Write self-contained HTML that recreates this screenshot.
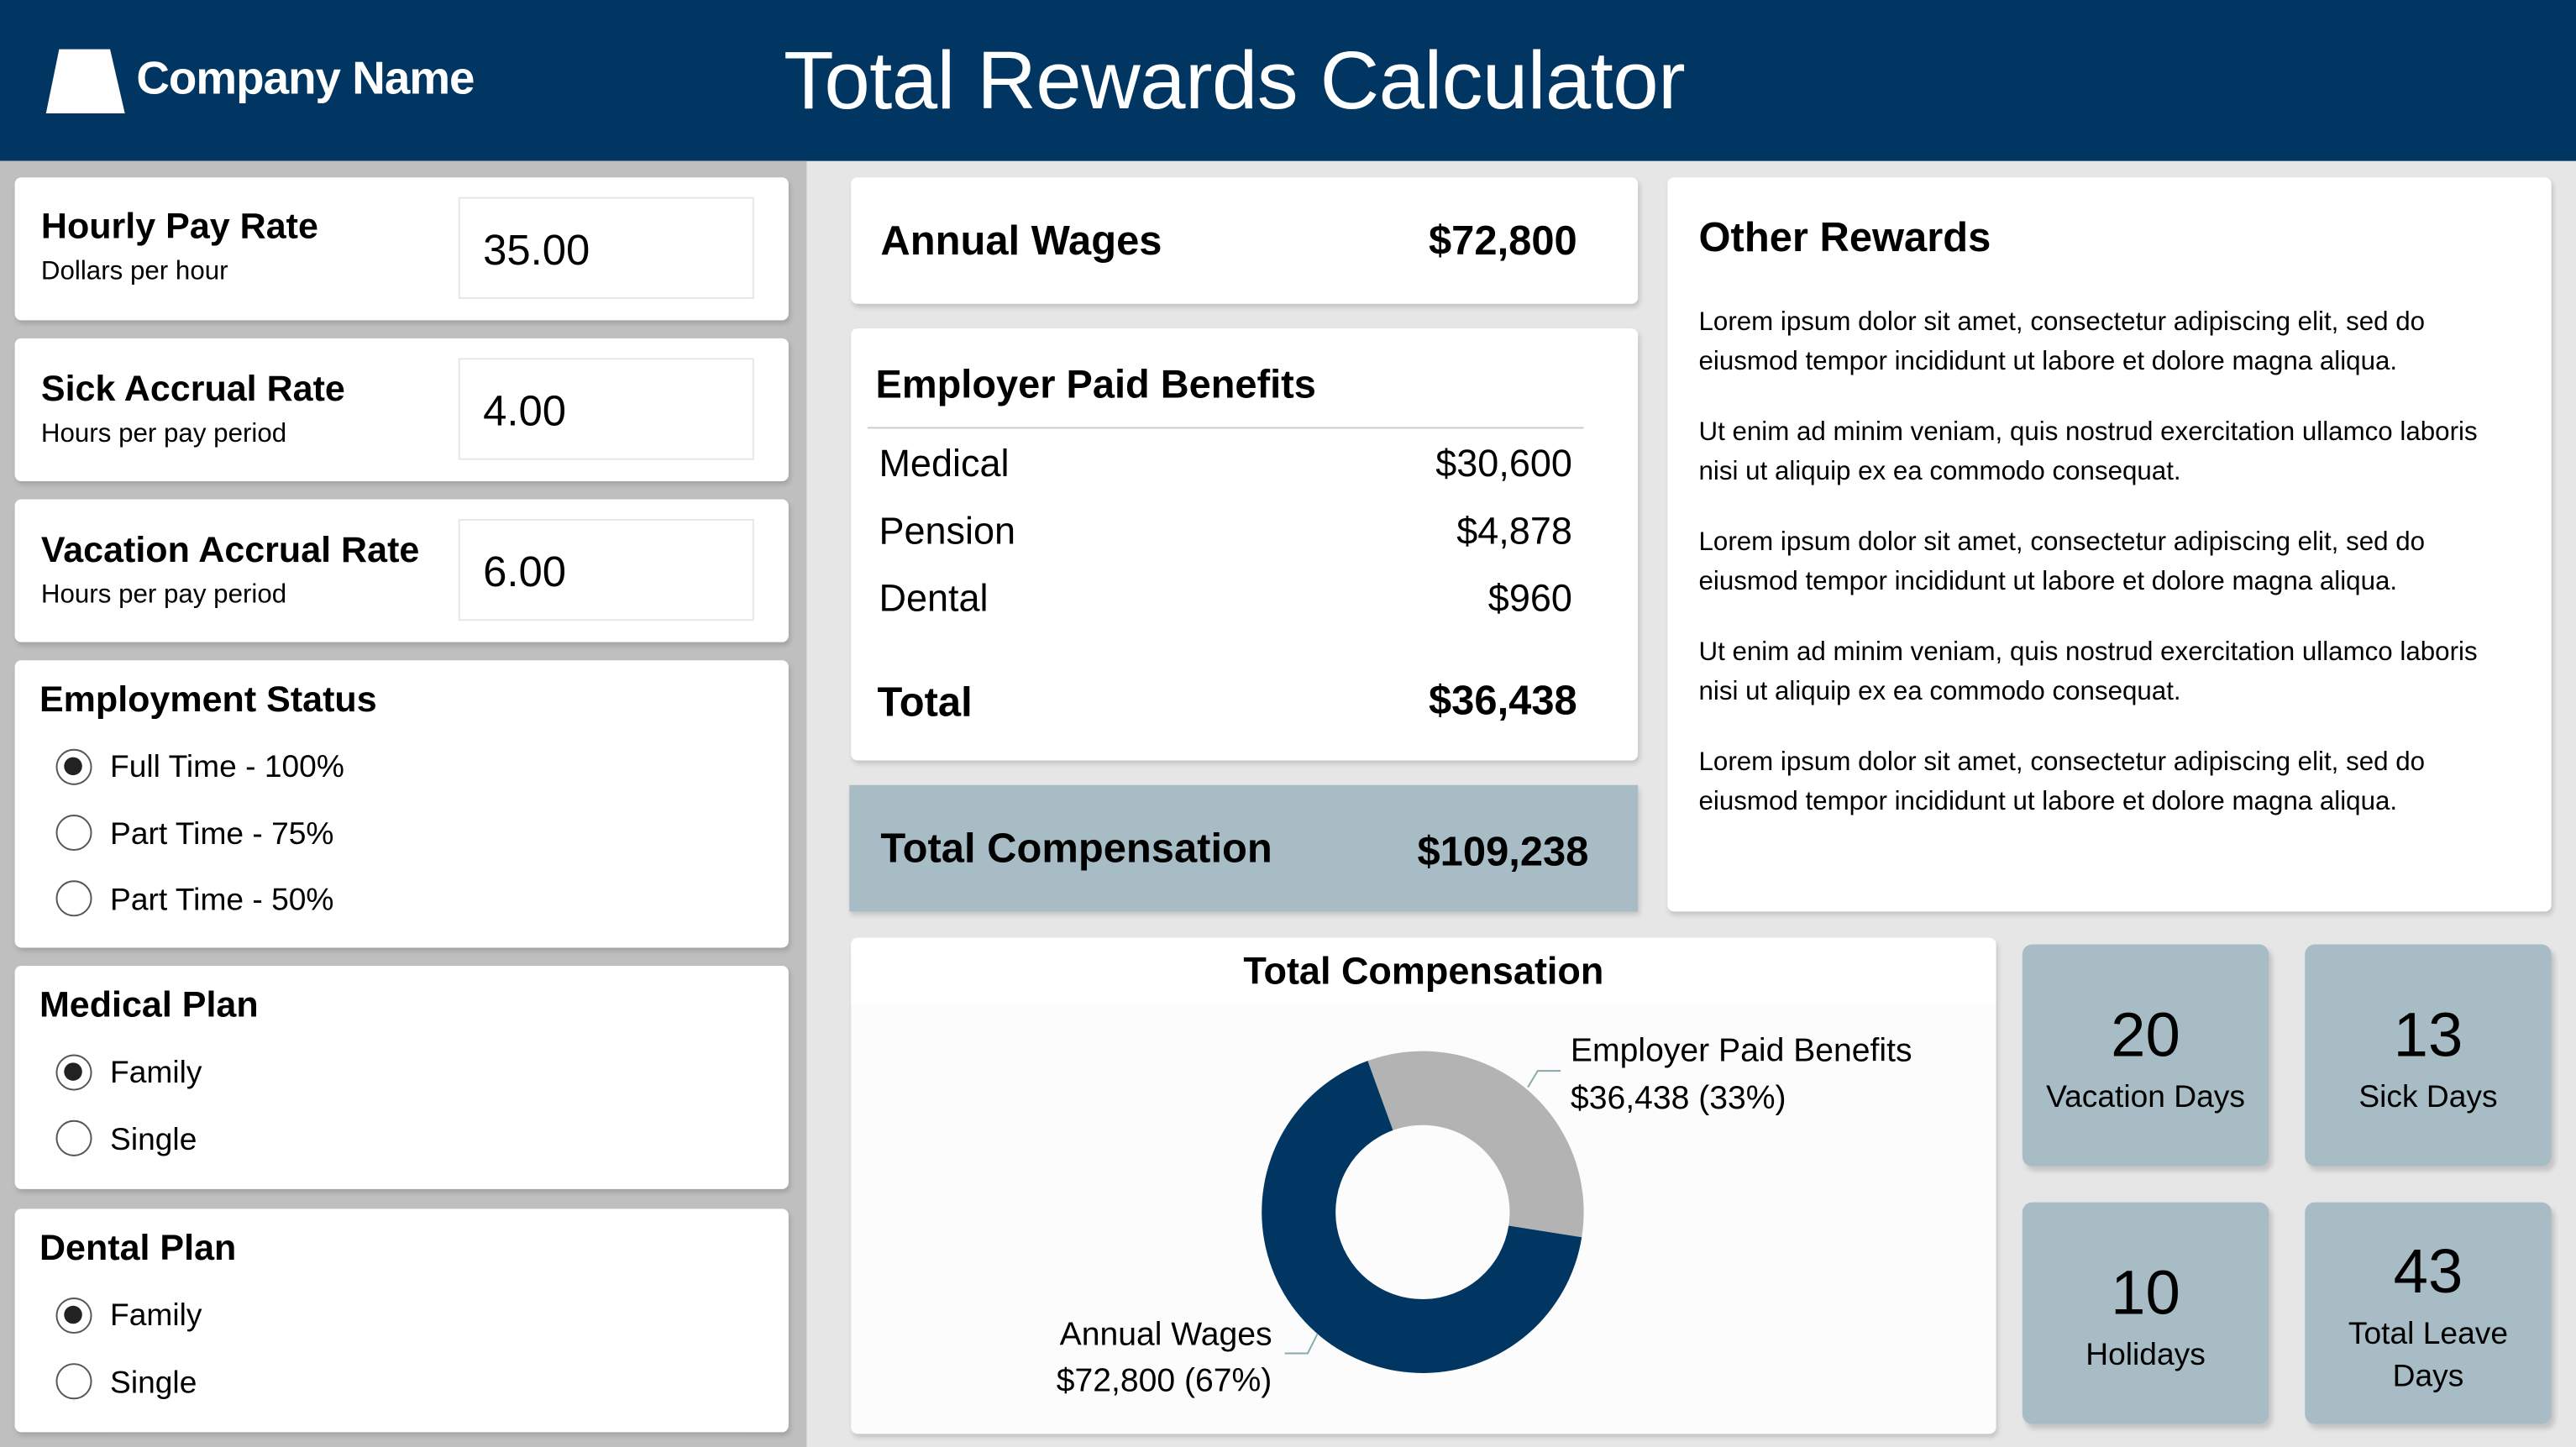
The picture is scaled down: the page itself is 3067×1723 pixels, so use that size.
<!DOCTYPE html>
<html><head><meta charset="utf-8"><style>
*{margin:0;padding:0;box-sizing:border-box}
html,body{width:3067px;height:1723px;overflow:hidden;background:#e6e6e6}
#s{position:absolute;left:0;top:0;width:1568px;height:881px;transform:scale(1.956,1.9557);transform-origin:0 0;font-family:"Liberation Sans",sans-serif;color:#000}
.a{position:absolute}
.card{position:absolute;background:#fff;border-radius:4px;box-shadow:1px 2px 3px rgba(0,0,0,.15)}
.t{position:absolute;white-space:nowrap}
.b{font-weight:bold}
.inp{position:absolute;left:270px;width:180px;height:62px;border:1px solid #e6e6e6;background:#fff;font-size:26px;padding:16px 0 0 14px}
.rad{position:absolute;width:22px;height:22px;border:1.5px solid #555;border-radius:50%;background:#fff}
.rad.on::after{content:"";position:absolute;left:4px;top:4px;width:11px;height:11px;border-radius:50%;background:#222}
.tile{position:absolute;width:150px;height:135px;background:#a7bcc4;border-radius:6px;box-shadow:2px 3px 3px rgba(0,0,0,.15);text-align:center}
</style></head><body><div id="s">
<div class="a" style="left:0;top:0;width:1568px;height:98px;background:#003661"></div>
<svg class="a" style="left:0;top:0" width="100" height="98"><polygon points="36,30 67,30 76,69 28,69" fill="#fff"/></svg>
<div class="t b" style="left:83px;top:32px;font-size:28px;color:#fff;letter-spacing:-0.5px">Company Name</div>
<div class="t" style="left:477px;top:20px;font-size:50px;color:#fff;letter-spacing:-0.3px">Total Rewards Calculator</div>
<div class="a" style="left:0;top:98px;width:491px;height:783px;background:#bfbfbf"></div>

<div class="card" style="left:9px;top:108px;width:471px;height:87px">
<div class="t b" style="left:16px;top:17px;font-size:22px">Hourly Pay Rate</div>
<div class="t" style="left:16px;top:49px;font-size:16px">Dollars per hour</div>
<div class="inp" style="top:12px">35.00</div></div>
<div class="card" style="left:9px;top:206px;width:471px;height:87px">
<div class="t b" style="left:16px;top:18px;font-size:22px">Sick Accrual Rate</div>
<div class="t" style="left:16px;top:50px;font-size:16px">Hours per pay period</div>
<div class="inp" style="top:12px">4.00</div></div>
<div class="card" style="left:9px;top:304px;width:471px;height:87px">
<div class="t b" style="left:16px;top:18px;font-size:22px">Vacation Accrual Rate</div>
<div class="t" style="left:16px;top:50px;font-size:16px">Hours per pay period</div>
<div class="inp" style="top:12px">6.00</div></div>

<div class="card" style="left:9px;top:402px;width:471px;height:175px">
<div class="t b" style="left:15px;top:11px;font-size:22px">Employment Status</div>
<div class="rad on" style="left:25px;top:54px"></div><div class="t" style="left:58px;top:55px;font-size:19px">Full Time - 100%</div>
<div class="rad" style="left:25px;top:94px"></div><div class="t" style="left:58px;top:96px;font-size:19px">Part Time - 75%</div>
<div class="rad" style="left:25px;top:134px"></div><div class="t" style="left:58px;top:136px;font-size:19px">Part Time - 50%</div></div>
<div class="card" style="left:9px;top:588px;width:471px;height:136px">
<div class="t b" style="left:15px;top:11px;font-size:22px">Medical Plan</div>
<div class="rad on" style="left:25px;top:54px"></div><div class="t" style="left:58px;top:55px;font-size:19px">Family</div>
<div class="rad" style="left:25px;top:94px"></div><div class="t" style="left:58px;top:96px;font-size:19px">Single</div></div>
<div class="card" style="left:9px;top:736px;width:471px;height:136px">
<div class="t b" style="left:15px;top:11px;font-size:22px">Dental Plan</div>
<div class="rad on" style="left:25px;top:54px"></div><div class="t" style="left:58px;top:55px;font-size:19px">Family</div>
<div class="rad" style="left:25px;top:94px"></div><div class="t" style="left:58px;top:96px;font-size:19px">Single</div></div>

<div class="card" style="left:518px;top:108px;width:479px;height:77px">
<div class="t b" style="left:18px;top:25px;font-size:25px">Annual Wages</div>
<div class="t b" style="right:37px;top:25px;font-size:25px">$72,800</div></div>

<div class="card" style="left:518px;top:200px;width:479px;height:263px">
<div class="t b" style="left:15px;top:21px;font-size:24px">Employer Paid Benefits</div>
<div class="a" style="left:10px;top:60px;width:436px;height:1px;background:#ccc"></div>
<div class="t" style="left:17px;top:69px;font-size:23px">Medical</div><div class="t" style="right:40px;top:69px;font-size:23px">$30,600</div>
<div class="t" style="left:17px;top:110px;font-size:23px">Pension</div><div class="t" style="right:40px;top:110px;font-size:23px">$4,878</div>
<div class="t" style="left:17px;top:151px;font-size:23px">Dental</div><div class="t" style="right:40px;top:151px;font-size:23px">$960</div>
<div class="t b" style="left:16px;top:214px;font-size:25px">Total</div><div class="t b" style="right:37px;top:213px;font-size:25px">$36,438</div></div>

<div class="a" style="left:517px;top:478px;width:480px;height:77px;background:#a7bcc4;box-shadow:1px 2px 3px rgba(0,0,0,.15)">
<div class="t b" style="left:19px;top:25px;font-size:25px">Total Compensation</div>
<div class="t b" style="right:30px;top:27px;font-size:25px">$109,238</div></div>

<div class="card" style="left:1015px;top:108px;width:538px;height:447px;font-size:16px;line-height:24px">
<div class="t b" style="left:19px;top:25px;font-size:25px">Other Rewards</div>
<div class="a" style="left:19px;top:77px;width:500px">Lorem ipsum dolor sit amet, consectetur adipiscing elit, sed do eiusmod tempor incididunt ut labore et dolore magna aliqua.</div>
<div class="a" style="left:19px;top:144px;width:500px">Ut enim ad minim veniam, quis nostrud exercitation ullamco laboris nisi ut aliquip ex ea commodo consequat.</div>
<div class="a" style="left:19px;top:211px;width:500px">Lorem ipsum dolor sit amet, consectetur adipiscing elit, sed do eiusmod tempor incididunt ut labore et dolore magna aliqua.</div>
<div class="a" style="left:19px;top:278px;width:500px">Ut enim ad minim veniam, quis nostrud exercitation ullamco laboris nisi ut aliquip ex ea commodo consequat.</div>
<div class="a" style="left:19px;top:345px;width:500px">Lorem ipsum dolor sit amet, consectetur adipiscing elit, sed do eiusmod tempor incididunt ut labore et dolore magna aliqua.</div></div>

<div class="card" style="left:518px;top:571px;width:697px;height:302px;background:#fcfcfc">
<div class="a" style="left:0;top:0;width:697px;height:40px;background:#fff;border-radius:4px 4px 0 0"></div>
<div class="t b" style="left:0;width:697px;text-align:center;top:7px;font-size:23px">Total Compensation</div></div>
<svg class="a" style="left:0;top:0" width="1568" height="881">
<path d="M832.5,645.9 A98,98 0 0 1 962.8,753.3 L918.3,746.3 A53,53 0 0 0 847.9,688.2 Z" fill="#b3b3b3"/>
<path d="M962.8,753.3 A98,98 0 1 1 832.5,645.9 L847.9,688.2 A53,53 0 1 0 918.3,746.3 Z" fill="#003661"/>
<polyline points="930,662 936,652 950,652" fill="none" stroke="#8aa" stroke-width="1"/>
<polyline points="782,824 796,824 802,812" fill="none" stroke="#8aa" stroke-width="1"/>
</svg>
<div class="t" style="left:956px;top:629px;font-size:20px">Employer Paid Benefits</div>
<div class="t" style="left:956px;top:658px;font-size:20px">$36,438 (33%)</div>
<div class="t" style="left:645px;top:802px;font-size:20px">Annual Wages</div>
<div class="t" style="left:643px;top:830px;font-size:20px">$72,800 (67%)</div>

<div class="tile" style="left:1231px;top:575px"><div class="t" style="left:0;width:150px;top:35px;font-size:38px">20</div><div class="t" style="left:0;width:150px;top:83px;font-size:19px">Vacation Days</div></div>
<div class="tile" style="left:1403px;top:575px"><div class="t" style="left:0;width:150px;top:35px;font-size:38px">13</div><div class="t" style="left:0;width:150px;top:83px;font-size:19px">Sick Days</div></div>
<div class="tile" style="left:1231px;top:732px"><div class="t" style="left:0;width:150px;top:35px;font-size:38px">10</div><div class="t" style="left:0;width:150px;top:83px;font-size:19px">Holidays</div></div>
<div class="tile" style="left:1403px;top:732px"><div class="t" style="left:0;width:150px;top:22px;font-size:38px">43</div><div class="t" style="left:0;width:150px;top:70px;font-size:19px">Total Leave</div><div class="t" style="left:0;width:150px;top:96px;font-size:19px">Days</div></div>
</div></body></html>
